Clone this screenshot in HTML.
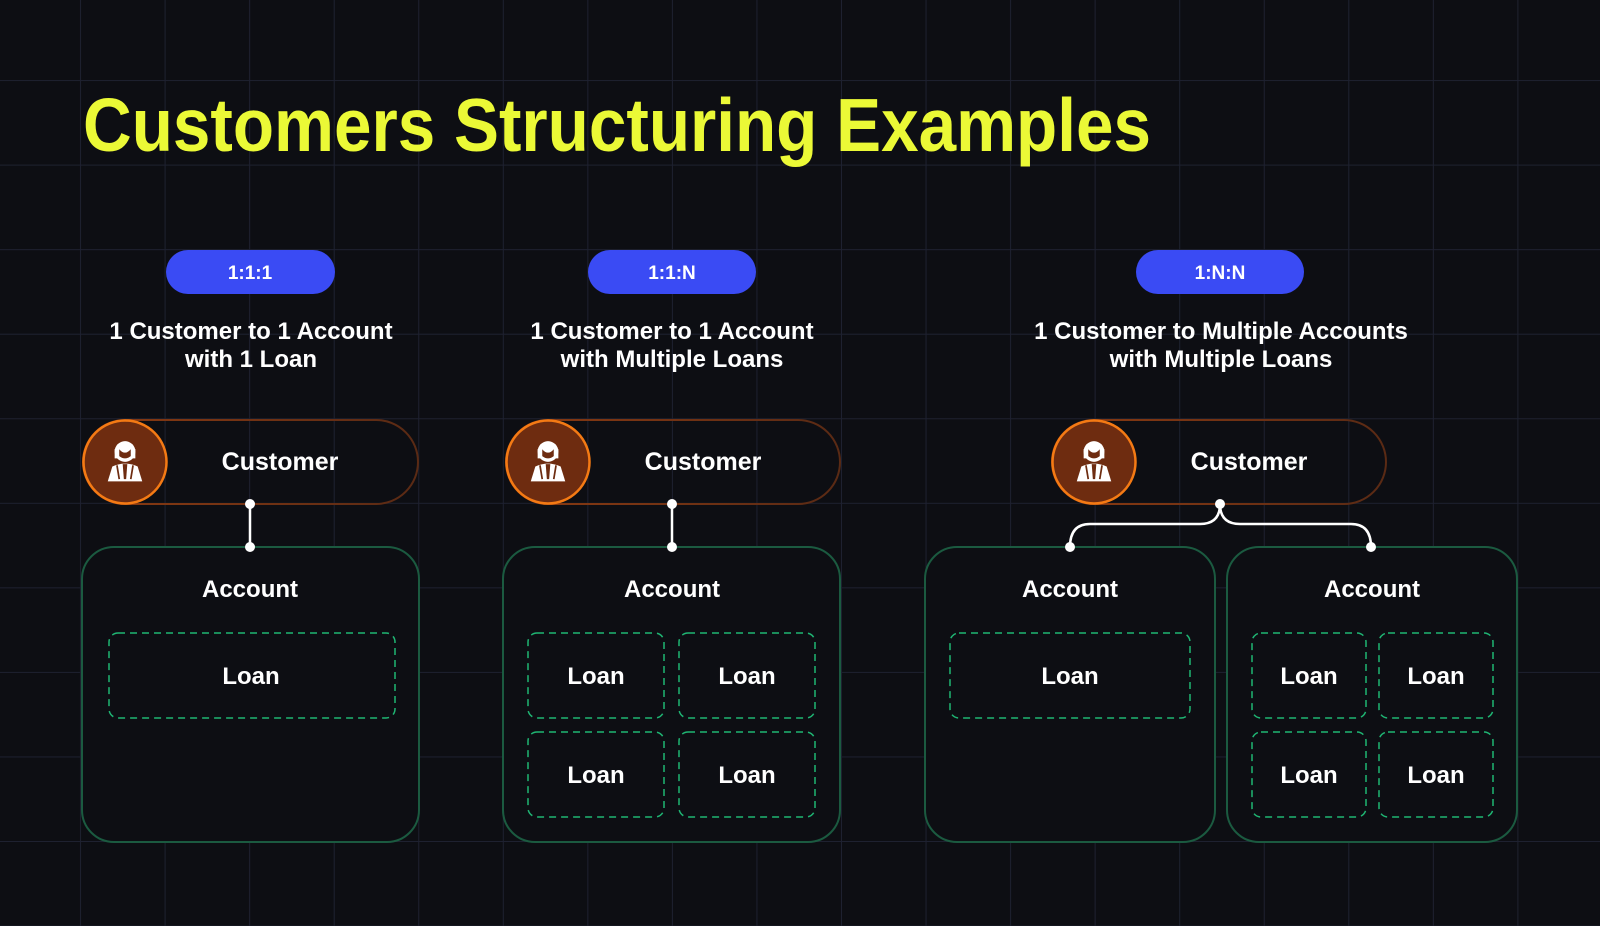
<!DOCTYPE html>
<html><head><meta charset="utf-8"><style>
html,body{margin:0;padding:0;background:#0d0e13;}
svg{display:block}
text{font-family:"Liberation Sans",sans-serif;font-weight:bold;fill:#fff;}
</style></head><body>
<svg width="1600" height="926" viewBox="0 0 1600 926" xmlns="http://www.w3.org/2000/svg">
<defs>
<pattern id="g" x="-3.5" y="-3.5" width="84.55" height="84.55" patternUnits="userSpaceOnUse">
<path d="M84.55 0V84.55M0 84.55H84.55" stroke="#1e2130" stroke-width="2" fill="none"/>
</pattern>
<linearGradient id="pg" x1="0" x2="1" y1="0" y2="0">
<stop offset="0" stop-color="#8a3a12"/><stop offset="1" stop-color="#5a2a14"/>
</linearGradient>
<g id="icon0">
<circle cx="0" cy="-10" r="9" fill="#fff"/>
<path d="M-9 -12 Q0 -22 9 -12 L9 -4 L-9 -4Z" fill="#fff"/>
<path d="M-5 -12 Q0 -6 5 -12 L5 -6 Q0 -2 -5 -6Z" fill="#6e2c10"/>
<path d="M-15 16 L-11 3 Q0 -2 11 3 L15 16Z" fill="#fff"/>
<path d="M-2 1 L2 1 L1 14 L-1 14Z" fill="#6e2c10"/>
<path d="M-7 2 L-5 14 M7 2 L5 14" stroke="#6e2c10" stroke-width="1.5"/>
</g>
<g id="icon"><use href="#icon0" transform="scale(1.15)"/></g>
</defs>
<rect width="1600" height="926" fill="#0d0e13"/>
<rect width="1600" height="926" fill="url(#g)"/>

<text x="83" y="151" font-size="75" style="fill:#ebf936" textLength="1068" lengthAdjust="spacingAndGlyphs">Customers Structuring Examples</text>

<g font-size="19" text-anchor="middle">
<rect x="166" y="250" width="169" height="44" rx="22" fill="#3a4bf4"/><text x="250" y="279">1:1:1</text>
<rect x="588" y="250" width="168" height="44" rx="22" fill="#3a4bf4"/><text x="672" y="279">1:1:N</text>
<rect x="1136" y="250" width="168" height="44" rx="22" fill="#3a4bf4"/><text x="1220" y="279">1:N:N</text>
</g>
<g font-size="24" text-anchor="middle">
<text x="251" y="339">1 Customer to 1 Account</text><text x="251" y="367">with 1 Loan</text>
<text x="672" y="339">1 Customer to 1 Account</text><text x="672" y="367">with Multiple Loans</text>
<text x="1221" y="339">1 Customer to Multiple Accounts</text><text x="1221" y="367">with Multiple Loans</text>
</g>

<g font-size="25" text-anchor="middle">
<rect x="83" y="420" width="335" height="84" rx="42" fill="none" stroke="url(#pg)" stroke-width="2"/>
<circle cx="125" cy="462" r="41.5" fill="#6e2c10" stroke="#f47a14" stroke-width="2.5"/>
<use href="#icon" x="125" y="463"/>
<text x="280" y="470">Customer</text>

<rect x="506" y="420" width="334" height="84" rx="42" fill="none" stroke="url(#pg)" stroke-width="2"/>
<circle cx="548" cy="462" r="41.5" fill="#6e2c10" stroke="#f47a14" stroke-width="2.5"/>
<use href="#icon" x="548" y="463"/>
<text x="703" y="470">Customer</text>

<rect x="1052" y="420" width="334" height="84" rx="42" fill="none" stroke="url(#pg)" stroke-width="2"/>
<circle cx="1094" cy="462" r="41.5" fill="#6e2c10" stroke="#f47a14" stroke-width="2.5"/>
<use href="#icon" x="1094" y="463"/>
<text x="1249" y="470">Customer</text>
</g>

<g fill="#0d0e13" stroke="#1b5a40" stroke-width="2">
<rect x="82" y="547" width="337" height="295" rx="32"/>
<rect x="503" y="547" width="337" height="295" rx="32"/>
<rect x="925" y="547" width="290" height="295" rx="32"/>
<rect x="1227" y="547" width="290" height="295" rx="32"/>
</g>
<g font-size="24" text-anchor="middle">
<text x="250" y="597">Account</text>
<text x="672" y="597">Account</text>
<text x="1070" y="597">Account</text>
<text x="1372" y="597">Account</text>
</g>

<g fill="none" stroke="#1fb573" stroke-width="1.5" stroke-dasharray="7 5">
<rect x="109" y="633" width="286" height="85" rx="9"/>
<rect x="528" y="633" width="136" height="85" rx="9"/>
<rect x="679" y="633" width="136" height="85" rx="9"/>
<rect x="528" y="732" width="136" height="85" rx="9"/>
<rect x="679" y="732" width="136" height="85" rx="9"/>
<rect x="950" y="633" width="240" height="85" rx="9"/>
<rect x="1252" y="633" width="114" height="85" rx="9"/>
<rect x="1379" y="633" width="114" height="85" rx="9"/>
<rect x="1252" y="732" width="114" height="85" rx="9"/>
<rect x="1379" y="732" width="114" height="85" rx="9"/>
</g>
<g font-size="24" text-anchor="middle">
<text x="251" y="684">Loan</text>
<text x="596" y="684">Loan</text><text x="747" y="684">Loan</text>
<text x="596" y="783">Loan</text><text x="747" y="783">Loan</text>
<text x="1070" y="684">Loan</text>
<text x="1309" y="684">Loan</text><text x="1436" y="684">Loan</text>
<text x="1309" y="783">Loan</text><text x="1436" y="783">Loan</text>
</g>

<g stroke="#fff" stroke-width="2.5" fill="none">
<path d="M250 504V547"/>
<path d="M672 504V547"/>
<path d="M1220 504 Q1220 524 1200 524 H1090 Q1070 524 1070 547"/>
<path d="M1220 504 Q1220 524 1240 524 H1351 Q1371 524 1371 547"/>
</g>
<g fill="#fff">
<circle cx="250" cy="504" r="5"/><circle cx="250" cy="547" r="5"/>
<circle cx="672" cy="504" r="5"/><circle cx="672" cy="547" r="5"/>
<circle cx="1220" cy="504" r="5"/><circle cx="1070" cy="547" r="5"/><circle cx="1371" cy="547" r="5"/>
</g>
</svg>
</body></html>
